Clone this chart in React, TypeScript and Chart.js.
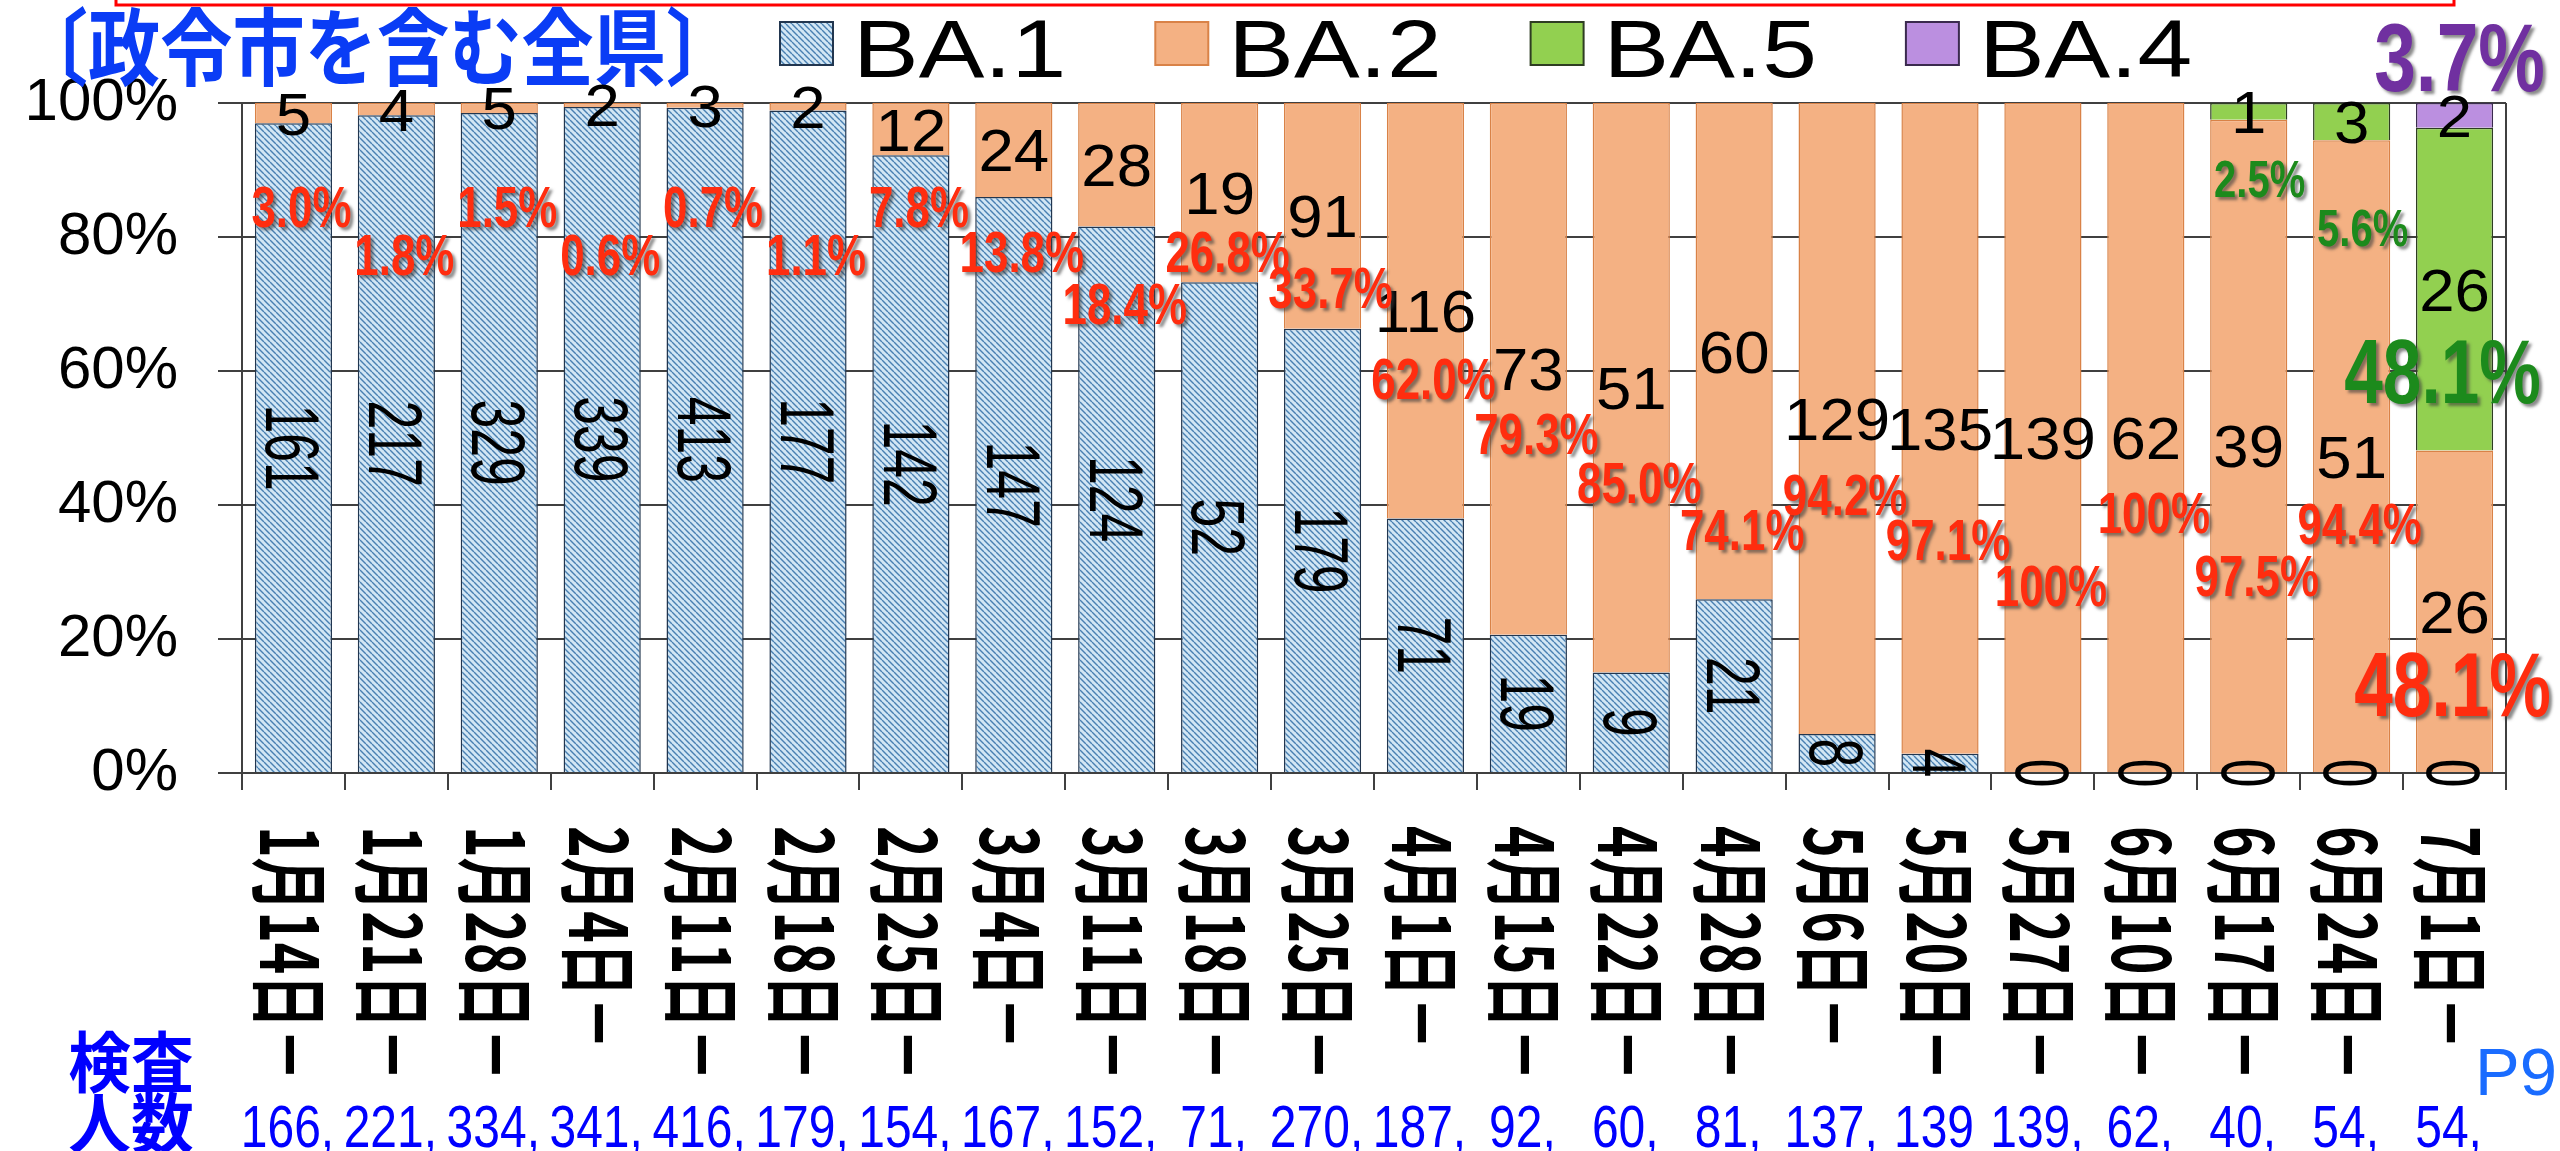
import React, { useEffect, useRef } from "react";
import { Chart, registerables } from "chart.js";

Chart.register(...registerables);

// ---------------- data ----------------
const categories = [
  "1月14日－", "1月21日－", "1月28日－", "2月4日－", "2月11日－", "2月18日－", "2月25日－",
  "3月4日－", "3月11日－", "3月18日－", "3月25日－", "4月1日－", "4月15日－", "4月22日－",
  "4月28日－", "5月6日－", "5月20日－", "5月27日－", "6月10日－", "6月17日－", "6月24日－", "7月1日－",
];
const seriesNames = ["BA.1", "BA.2", "BA.5", "BA.4"];
const ba1Counts = [161, 217, 329, 339, 413, 177, 142, 147, 124, 52, 179, 71, 19, 9, 21, 8, 4, 0, 0, 0, 0, 0];
const ba2Counts = [5, 4, 5, 2, 3, 2, 12, 24, 28, 19, 91, 116, 73, 51, 60, 129, 135, 139, 62, 39, 51, 26];
const ba5Counts = [0, 0, 0, 0, 0, 0, 0, 0, 0, 0, 0, 0, 0, 0, 0, 0, 0, 0, 0, 1, 3, 26];
const ba4Counts = [0, 0, 0, 0, 0, 0, 0, 0, 0, 0, 0, 0, 0, 0, 0, 0, 0, 0, 0, 0, 0, 2];
const testedCounts = [166, 221, 334, 341, 416, 179, 154, 167, 152, 71, 270, 187, 92, 60, 81, 137, 139, 139, 62, 40, 54, 54];
const ba2PctLabels = [
  "3.0%", "1.8%", "1.5%", "0.6%", "0.7%", "1.1%", "7.8%", "13.8%", "18.4%", "26.8%", "33.7%",
  "62.0%", "79.3%", "85.0%", "74.1%", "94.2%", "97.1%", "100%", "100%", "97.5%", "94.4%", "48.1%",
];
const ba5PctLabels: (string | null)[] = [
  null, null, null, null, null, null, null, null, null, null, null,
  null, null, null, null, null, null, null, null, "2.5%", "5.6%", "48.1%",
];
const ba4PctLabels: (string | null)[] = [
  null, null, null, null, null, null, null, null, null, null, null,
  null, null, null, null, null, null, null, null, null, null, "3.7%",
];
const yTickStep = 10;
const yLabelStep = 20;
const titleText = "〔政令市を含む全県〕";
const testedTitle = ["検査", "人数"];
const pageMark = "P9";

// ---------------- layout / style ----------------
const W = 2560;
const H = 1151;
const AREA = { left: 242, right: 2506, top: 103, bottom: 773 };
const AXIS = "#404040";
const FONT_LAT = '"Liberation Sans", Arial, sans-serif';
const FONT_JP = '"Noto Sans CJK JP", "Noto Sans CJK SC", sans-serif';
const RED = "#ff2d0f";
const GREEN = "#1c8a1c";
const PURPLE = "#7030a0";
// label heights in axis units (percent)
const BA2_PCT_Y = [84.5, 77.3, 84.5, 77.3, 84.5, 77.3, 84.5, 77.8, 70.1, 77.8, 72.5, 58.8, 50.6, 43.4, 36.3, 41.6, 34.8, 28.0, 38.9, 29.5, 37.2, 13.3];
const BA5_PCT_Y = [0, 0, 0, 0, 0, 0, 0, 0, 0, 0, 0, 0, 0, 0, 0, 0, 0, 0, 0, 88.8, 81.5, 60.0];
const BA4_PCT_Y = [0, 0, 0, 0, 0, 0, 0, 0, 0, 0, 0, 0, 0, 0, 0, 0, 0, 0, 0, 0, 0, 106.9];

type TxtOpts = {
  size: number;
  color: string;
  weight?: string;
  family?: string;
  sx?: number;
  align?: CanvasTextAlign;
  rotate?: number;
  shadow?: boolean;
  cjk?: boolean;
};

function txt(ctx: CanvasRenderingContext2D, text: string, x: number, y: number, o: TxtOpts) {
  ctx.save();
  ctx.translate(x, y);
  if (o.rotate) ctx.rotate(o.rotate);
  ctx.scale(o.sx ?? 1, 1);
  ctx.font = `${o.weight ?? "normal"} ${o.size}px ${o.family ?? FONT_LAT}`;
  ctx.fillStyle = o.color;
  ctx.textAlign = o.align ?? "center";
  if (o.shadow) {
    ctx.shadowColor = "rgba(60,60,60,0.6)";
    ctx.shadowOffsetX = 3;
    ctx.shadowOffsetY = 3;
    ctx.shadowBlur = 3;
  }
  if (o.cjk) {
    ctx.textBaseline = "middle";
    ctx.fillText(text, 0, 0);
  } else {
    ctx.textBaseline = "alphabetic";
    ctx.fillText(text, 0, o.size * 0.358);
  }
  ctx.restore();
}

function makeHatch(): CanvasPattern | string {
  const s = 6;
  const c = document.createElement("canvas");
  c.width = s;
  c.height = s;
  const g = c.getContext("2d");
  if (!g) return "#a9cbe0";
  g.fillStyle = "#d2e6f4";
  g.fillRect(0, 0, s, s);
  g.strokeStyle = "#4a80b2";
  g.lineWidth = 1.4;
  g.beginPath();
  for (const o of [-s, 0, s]) {
    g.moveTo(o, 0);
    g.lineTo(o + s, s);
  }
  g.stroke();
  return g.createPattern(c, "repeat") || "#a9cbe0";
}

const annotate = {
  id: "annotate",
  beforeDatasetsDraw(chart: any) {
    const { ctx, chartArea } = chart;
    ctx.save();
    ctx.strokeStyle = AXIS;
    ctx.lineWidth = 2;
    ctx.beginPath();
    ctx.moveTo(chartArea.right, chartArea.top);
    ctx.lineTo(chartArea.right, chartArea.bottom);
    ctx.stroke();
    ctx.restore();
  },
  afterDraw(chart: any) {
    const ctx: CanvasRenderingContext2D = chart.ctx;
    const xs = chart.scales.x;
    const ys = chart.scales.y;

    // red frame at top
    ctx.save();
    ctx.strokeStyle = "#ff0000";
    ctx.lineWidth = 3;
    ctx.strokeRect(116, -20, 2454 - 116, 25);
    ctx.restore();

    // title
    txt(ctx, titleText, 377, 47, { size: 84, weight: "bold", family: FONT_JP, color: "#0a3cf5", sx: 0.86, cjk: true });

    // legend
    chart.data.datasets.forEach((ds: any, i: number) => {
      const bx = 780 + i * 375.3;
      ctx.save();
      ctx.fillStyle = ds.backgroundColor;
      ctx.fillRect(bx, 22, 53, 43);
      ctx.strokeStyle = ds.borderColor;
      ctx.lineWidth = 2;
      ctx.strokeRect(bx, 22, 53, 43);
      ctx.restore();
      txt(ctx, ds.label, bx + 73, 47.5, { size: 82, color: "#000", sx: 1.2, align: "left" });
    });

    // x category labels (rotated clockwise)
    categories.forEach((lab, i) => {
      const cx = xs.getPixelForValue(i);
      txt(ctx, lab, cx - 3, 826, {
        size: 80, weight: "bold", family: FONT_JP, color: "#000", sx: 0.67, align: "left", rotate: Math.PI / 2, cjk: true,
      });
    });

    const metas = [0, 1, 2, 3].map((d) => chart.getDatasetMeta(d));
    const counts = [ba1Counts, ba2Counts, ba5Counts, ba4Counts];

    // count labels
    categories.forEach((_, i) => {
      // BA.1 rotated
      const e1 = metas[0].data[i];
      txt(ctx, String(counts[0][i]), e1.x, (e1.y + e1.base) / 2, {
        size: 76, color: "#000", sx: 0.68, rotate: Math.PI / 2,
      });
      for (let d = 1; d < 4; d++) {
        const v = counts[d][i];
        if (v <= 0) continue;
        const e = metas[d].data[i];
        txt(ctx, String(v), e.x, (e.y + e.base) / 2, { size: 60, color: "#000", sx: 1.06 });
      }
    });

    // percent labels
    const last = categories.length - 1;
    categories.forEach((_, i) => {
      const cx = xs.getPixelForValue(i);
      const big = i === last;
      txt(ctx, ba2PctLabels[i], cx + (big ? -2 : 8), ys.getPixelForValue(BA2_PCT_Y[i]), {
        size: big ? 90 : 57, weight: "bold", color: RED, sx: 0.77, shadow: true,
      });
      const g = ba5PctLabels[i];
      if (g) {
        txt(ctx, g, cx + (big ? -12 : 11), ys.getPixelForValue(BA5_PCT_Y[i]), {
          size: big ? 90 : 52, weight: "bold", color: GREEN, sx: 0.77, shadow: true,
        });
      }
      const p = ba4PctLabels[i];
      if (p) {
        txt(ctx, p, cx + 5, ys.getPixelForValue(BA4_PCT_Y[i]), {
          size: 96, weight: "bold", color: PURPLE, sx: 0.78, shadow: true,
        });
      }
    });

    // tested counts row
    txt(ctx, testedTitle[0], 131, 1062, { size: 66, weight: "bold", family: FONT_JP, color: "#0000ff", sx: 0.95, cjk: true });
    txt(ctx, testedTitle[1], 131, 1123, { size: 66, weight: "bold", family: FONT_JP, color: "#0000ff", sx: 0.95, cjk: true });
    testedCounts.forEach((n, i) => {
      const cx = xs.getPixelForValue(i);
      const s = i === 16 ? `${n}` : `${n},`;
      txt(ctx, s, cx - 6, 1126, { size: 60, color: "#0000ff", sx: 0.8 });
    });
    txt(ctx, pageMark, 2516, 1071, { size: 67, color: "#1a6cff" });
  },
};

export default function App() {
  const ref = useRef<HTMLCanvasElement>(null);

  useEffect(() => {
    const canvas = ref.current;
    if (!canvas) return;
    const hatch = makeHatch();
    const totals = categories.map((_, i) => ba1Counts[i] + ba2Counts[i] + ba5Counts[i] + ba4Counts[i]);
    const pct = (arr: number[]) => arr.map((v, i) => (v / totals[i]) * 100);
    const bw = (w: number) => (c: any) => (c.raw > 0 ? w : 0);

    const chart = new Chart(canvas, {
      type: "bar",
      data: {
        labels: categories,
        datasets: [
          { label: seriesNames[0], data: pct(ba1Counts), backgroundColor: hatch as any, borderColor: "#22364f", borderWidth: bw(1.5) as any },
          { label: seriesNames[1], data: pct(ba2Counts), backgroundColor: "#f4b183", borderColor: "#d98247", borderWidth: bw(1.5) as any },
          { label: seriesNames[2], data: pct(ba5Counts), backgroundColor: "#92d050", borderColor: "#2e3d22", borderWidth: bw(1.5) as any },
          { label: seriesNames[3], data: pct(ba4Counts), backgroundColor: "#bb8fe0", borderColor: "#3a2a4e", borderWidth: bw(1.5) as any },
        ],
      },
      options: {
        responsive: false,
        animation: false,
        devicePixelRatio: 1,
        layout: { padding: { top: AREA.top, right: W - AREA.right, left: 0, bottom: 0 } },
        datasets: { bar: { categoryPercentage: 1, barPercentage: 0.75 } },
        plugins: { legend: { display: false }, tooltip: { enabled: false } },
        scales: {
          x: {
            stacked: true,
            grid: { offset: true, drawOnChartArea: false, tickLength: 17, color: AXIS, lineWidth: 2 },
            border: { color: AXIS, width: 2 },
            ticks: { display: false },
            afterFit: (s: any) => {
              s.height = H - AREA.bottom;
            },
          },
          y: {
            stacked: true,
            min: 0,
            max: 100,
            ticks: {
              stepSize: yTickStep,
              padding: 40,
              color: "#000",
              font: { family: FONT_LAT, size: 60 },
              callback: (v: any) => (Number(v) % yLabelStep === 0 ? `${v}%` : ""),
            },
            grid: {
              color: (c: any) => (c.tick && c.tick.value % yLabelStep === 0 ? AXIS : "rgba(0,0,0,0)"),
              tickColor: AXIS,
              tickLength: 24,
              lineWidth: 2,
            },
            border: { color: AXIS, width: 2 },
            afterFit: (s: any) => {
              s.width = AREA.left;
            },
          },
        },
      } as any,
      plugins: [annotate],
    });
    return () => chart.destroy();
  }, []);

  return (
    <div style={{ position: "absolute", left: 0, top: 0, width: W, height: H, background: "#fff" }}>
      <canvas ref={ref} width={W} height={H} style={{ display: "block", width: W, height: H }} />
    </div>
  );
}
